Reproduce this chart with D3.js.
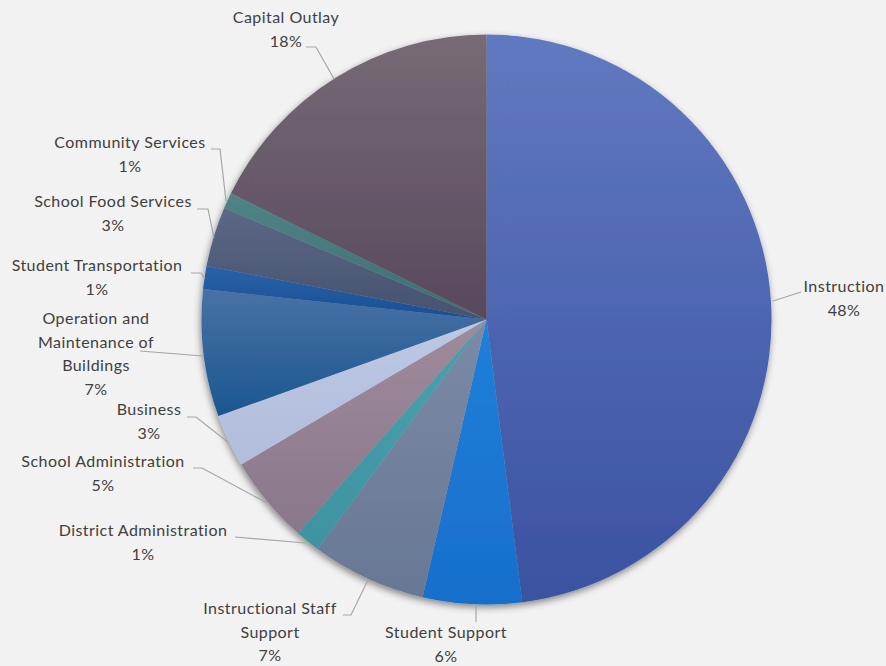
<!DOCTYPE html>
<html><head><meta charset="utf-8">
<script src="https://cdn.jsdelivr.net/npm/d3@7"></script>
<style>html,body{margin:0;padding:0;background:#f2f2f2;}svg{display:block;}</style>
</head><body><svg id="c" width="886" height="666"></svg>
<script>
const categories = ["Instruction","Student Support","Instructional Staff Support","District Administration","School Administration","Business","Operation and Maintenance of Buildings","Student Transportation","School Food Services","Community Services","Capital Outlay"];
const values = [48.0,5.6,6.5,1.4,5.0,3.0,7.2,1.3,3.4,0.9,17.7];
const labelLines = [["Instruction"],["Student Support"],["Instructional Staff","Support"],["District Administration"],["School Administration"],["Business"],["Operation and","Maintenance of","Buildings"],["Student Transportation"],["School Food Services"],["Community Services"],["Capital Outlay"]];
const colorTop = ["#6179c0","#2080da","#7b8ba7","#4ba2ae","#9f8b9c","#bdc8e5","#4872a5","#2a62a8","#5c6886","#508487","#766b75"];
const colorBot = ["#3a52a0","#186ecb","#687894","#3e93a0","#89778a","#b2bddb","#1b5690","#194e94","#46526e","#3d6e70","#58485d"];
// layout: label anchor (center x, first line y) and leader line elbow points
const labelLayout = [
  {x:844,y:287,pts:[[801,292],[773,301]]},
  {x:446,y:633,pts:[[476,622],[476,606]]},
  {x:270,y:609,pts:[[343,615],[351,615],[368,580]]},
  {x:143,y:531,pts:[[235,537],[306,543]]},
  {x:103,y:462,pts:[[193,468],[202,468],[267,503]]},
  {x:149,y:410,pts:[[187,417],[196,417],[229,443]]},
  {x:96,y:319,pts:[[140,351],[203,356]]},
  {x:97,y:266,pts:[[191,273],[201,273],[205,279]]},
  {x:113,y:202,pts:[[197,209],[208,209],[214,238]]},
  {x:130,y:143,pts:[[211,149],[220,149],[226,201]]},
  {x:286,y:18,pts:[[306,47],[316,47],[334,79]]}
];
const cx = 486.5, cy = 319.5, R = 285;
const svg = d3.select("#c");
const defs = svg.append("defs");
const f = defs.append("filter").attr("id","sh").attr("x","-10%").attr("y","-10%").attr("width","120%").attr("height","120%");
f.append("feDropShadow").attr("dx",-1).attr("dy",3).attr("stdDeviation",3.5).attr("flood-color","#000").attr("flood-opacity",0.45);
categories.forEach((c,i)=>{
  const g = defs.append("linearGradient").attr("id","g"+i).attr("x1",0).attr("y1",0).attr("x2",0).attr("y2",1);
  g.append("stop").attr("offset","0%").attr("stop-color",colorTop[i]);
  g.append("stop").attr("offset","100%").attr("stop-color",colorBot[i]);
});
const pie = d3.pie().sort(null).value(d=>d);
const arcs = pie(values);
const arc = d3.arc().innerRadius(0).outerRadius(R);
const gp = svg.append("g").attr("transform",`translate(${cx},${cy})`).attr("filter","url(#sh)");
gp.selectAll("path").data(arcs).join("path").attr("d",arc).attr("fill",(d,i)=>`url(#g${i})`);
// leader lines
const line = d3.line();
svg.append("g").selectAll("path").data(labelLayout).join("path")
  .attr("d",d=>line(d.pts)).attr("fill","none").attr("stroke","#a6a6a6").attr("stroke-width",1.2);
// labels
const lg = svg.append("g").attr("font-family","Lato, 'Open Sans', sans-serif").attr("font-size","16px").attr("letter-spacing","0.45px").attr("fill","#404040").attr("text-anchor","middle");
arcs.forEach((a,i)=>{
  const L = labelLayout[i];
  const lines = labelLines[i].concat([Math.round(values[i])+"%"]);
  const t = lg.append("text").attr("x",L.x).attr("y",L.y+5);
  lines.forEach((s,k)=>t.append("tspan").attr("x",L.x).attr("dy",k?23.5:0).text(s));
});
</script></body></html>
